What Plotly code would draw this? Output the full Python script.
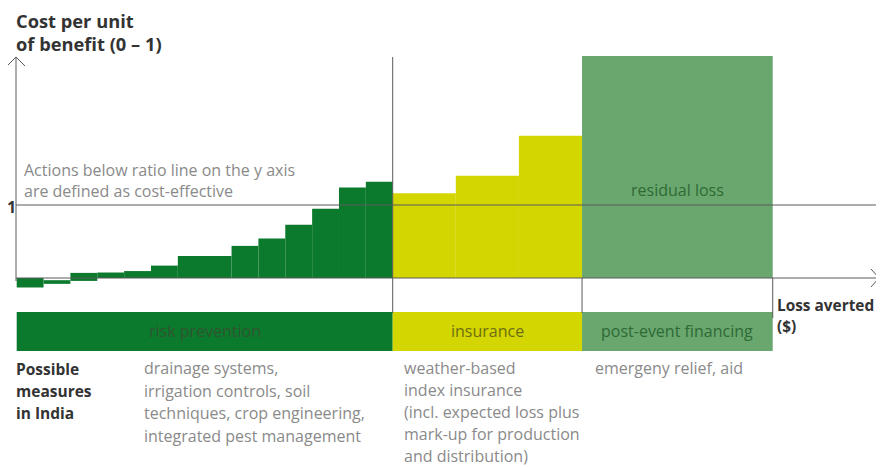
import plotly.graph_objects as go

# ---------------- data ----------------
prev_widths = [1, 1, 1, 1, 1, 1, 2, 1, 1, 1, 1, 1, 1]
prev_bases = [-0.13, -0.08, -0.04, 0, 0, 0, 0, 0, 0, 0, 0, 0, 0]
prev_tops = [0.0, -0.03, 0.07, 0.075, 0.095, 0.17, 0.30, 0.44, 0.54, 0.73, 0.95, 1.24, 1.32]

ins_widths = [2.35, 2.35, 2.35]
ins_tops = [1.16, 1.40, 1.95]

resid_width = [7.1]
resid_top = [3.04]

segments = ["risk prevention", "insurance", "post-event financing"]
ratio_value = 1

y_title = ["Cost per unit", "of benefit (0 – 1)"]
x_title = ["Loss averted", "($)"]
note_lines = ["Actions below ratio line on the y axis", "are defined as cost-effective"]
measures_head = ["Possible", "measures", "in India"]
measures_prev = ["drainage systems,", "irrigation controls, soil",
                 "techniques, crop engineering,", "integrated pest management"]
measures_ins = ["weather-based", "index insurance", "(incl. expected loss plus",
                "mark-up for production", "and distribution)"]
measures_post = ["emergeny relief, aid"]

# ---------------- styling ----------------
PAGE_W, PAGE_H = 884, 467
OFF = 8                      # browser default body margin
W, H = PAGE_W - OFF, PAGE_H - OFF
C_PREV = "#0b7a2d"
C_INS = "#d3d600"
C_RES = "#69a76f"
C_AX = "#5a5a5a"
C_TXT = "#8a8a8a"
C_BOLD = "#333333"
FONT = "Open Sans"
TXT_SIZE = 16

X0_PX, UX = 16.7, 26.857   # x data -> page px
Y0_PX, UY = 278.0, 73.0    # y data -> page px

def px(x, y):
    """page pixel -> paper coords"""
    return (x - OFF) / W, 1 - (y - OFF) / H

def centers(widths, start):
    out, acc = [], start
    for w in widths:
        out.append(acc + w / 2)
        acc += w
    return out, acc

fig = go.Figure()

c_prev, end_prev = centers(prev_widths, 0)
fig.add_trace(go.Bar(x=c_prev, width=prev_widths, base=prev_bases,
                     y=[t - b for t, b in zip(prev_tops, prev_bases)],
                     marker=dict(color=C_PREV, line=dict(width=0)), hoverinfo="skip"))
c_ins, end_ins = centers(ins_widths, end_prev)
fig.add_trace(go.Bar(x=c_ins, width=ins_widths, base=[0] * len(ins_tops), y=ins_tops,
                     marker=dict(color=C_INS, line=dict(width=0)), hoverinfo="skip"))
c_res, end_res = centers(resid_width, end_ins)
fig.add_trace(go.Bar(x=c_res, width=resid_width, base=[0], y=resid_top,
                     marker=dict(color=C_RES, line=dict(width=0)), hoverinfo="skip"))

bounds = [0, end_prev, end_ins, end_res]
seg_colors = [C_PREV, C_INS, C_RES]
seg_text_colors = ["#2f5530", "#6e6e10", "#2f6a35"]

shapes = []
band_top, band_bot = px(0, 312)[1], px(0, 351)[1]
for i in range(3):
    shapes.append(dict(type="rect", xref="x", yref="paper", x0=bounds[i], x1=bounds[i + 1],
                       y0=band_bot, y1=band_top, fillcolor=seg_colors[i], line=dict(width=0),
                       layer="below"))

line = dict(color=C_AX, width=1)
xl, xr = px(16, 0)[0], px(879, 0)[0]
shapes.append(dict(type="line", xref="paper", yref="y", x0=xl, x1=xr,
                   y0=ratio_value, y1=ratio_value, line=line, layer="above"))
shapes.append(dict(type="line", xref="paper", yref="paper", x0=xl, x1=xl,
                   y0=px(0, 281)[1], y1=px(0, 57)[1], line=line, layer="above"))
shapes.append(dict(type="line", xref="paper", yref="y", x0=xl, x1=xr,
                   y0=0, y1=0, line=line, layer="above"))
ax, ay = px(7, 66); bx, by = px(16, 57); cx, cy = px(25, 66)
shapes.append(dict(type="path", xref="paper", yref="paper",
                   path=f"M {ax},{ay} L {bx},{by} L {cx},{cy}", line=line))
ax, ay = px(871, 269); bx, by = px(879, 278); cx, cy = px(871, 287)
shapes.append(dict(type="path", xref="paper", yref="paper",
                   path=f"M {ax},{ay} L {bx},{by} L {cx},{cy}", line=line))
shapes.append(dict(type="line", xref="x", yref="paper", x0=bounds[1], x1=bounds[1],
                   y0=px(0, 313)[1], y1=px(0, 57)[1], line=line, layer="above"))
shapes.append(dict(type="line", xref="x", yref="paper", x0=bounds[2], x1=bounds[2],
                   y0=px(0, 313)[1], y1=px(0, 278)[1], line=line, layer="above"))
shapes.append(dict(type="line", xref="x", yref="paper", x0=bounds[3], x1=bounds[3],
                   y0=px(0, 318)[1], y1=px(0, 278)[1], line=line, layer="above"))

ann = []

def text(x, y, s, color=C_TXT, size=TXT_SIZE, anchor="left", bold=False):
    ax_, ay_ = px(x, y)
    ann.append(dict(xref="paper", yref="paper", x=ax_, y=ay_, text=f"<b>{s}</b>" if bold else s,
                    showarrow=False, xanchor=anchor, yanchor="middle",
                    font=dict(family=FONT, size=size, color=color)))

for i, s in enumerate(y_title):
    text(14, 20 + 23 * i, s, C_BOLD, 18.3, bold=True)
text(5, 207, "1", C_BOLD, 16, bold=True)
for i, s in enumerate(note_lines):
    text(22, 170 + 21 * i, s)
for i, s in enumerate(x_title):
    text(775, 305 + 21 * i, s, C_BOLD, 15.4, bold=True)
for i, s in enumerate(measures_head):
    text(14, 369 + 22 * i, s, C_BOLD, 15.5, bold=True)
for i, s in enumerate(measures_prev):
    text(142, 368 + 22.7 * i, s)
for i, s in enumerate(measures_ins):
    text(402, 368 + 22.1 * i, s)
for i, s in enumerate(measures_post):
    text(593, 368, s)

for i, s in enumerate(segments):
    ann.append(dict(xref="x", yref="paper", x=(bounds[i] + bounds[i + 1]) / 2, y=px(0, 331)[1],
                    text=s, showarrow=False, xanchor="center", yanchor="middle",
                    font=dict(family=FONT, size=TXT_SIZE, color=seg_text_colors[i])))
ann.append(dict(xref="x", yref="paper", x=c_res[0], y=px(0, 190)[1], text="residual loss",
                showarrow=False, xanchor="center", yanchor="middle",
                font=dict(family=FONT, size=TXT_SIZE, color="#2f6a35")))

fig.update_layout(
    width=W, height=H, margin=dict(l=0, r=0, t=0, b=0),
    paper_bgcolor="white", plot_bgcolor="white", showlegend=False,
    barmode="overlay",
    xaxis=dict(range=[(OFF - X0_PX) / UX, (PAGE_W - X0_PX) / UX], visible=False, fixedrange=True),
    yaxis=dict(range=[(Y0_PX - PAGE_H) / UY, (Y0_PX - OFF) / UY], visible=False, fixedrange=True),
    shapes=shapes, annotations=ann,
)

fig.write_html("out.html")
